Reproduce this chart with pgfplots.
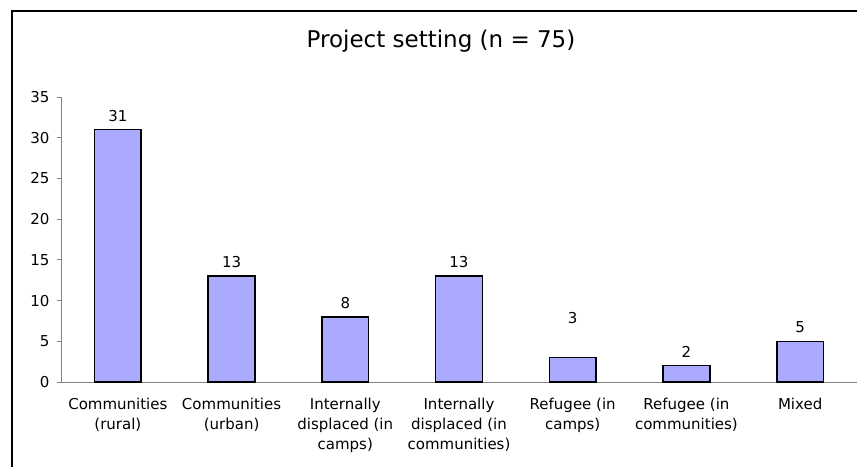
\documentclass[border=0pt]{standalone}
\usepackage{pgfplots}
\pgfplotsset{compat=1.18}
\usepackage{fontspec}
\setmainfont{DejaVu Sans}
\definecolor{barfill}{RGB}{170,170,255}
\definecolor{axgray}{RGB}{128,128,128}
\begin{document}
\begin{tikzpicture}
\useasboundingbox (0,0) rectangle (857pt,467pt);
\draw[line width=2pt] (11.5pt,0pt) -- (11.5pt,455.5pt) -- (857pt,455.5pt);
\node[anchor=base, font=\fontsize{23}{27}\selectfont] at (441pt,419pt) {Project setting (n = 75)};
\begin{axis}[
  at={(61pt,85pt)}, anchor=south west,
  scale only axis, width=796pt, height=285pt,
  xmin=-0.5, xmax=6.5, ymin=0, ymax=35,
  axis x line*=bottom, axis y line*=left,
  axis line style={axgray, line width=0.8pt},
  ytick={0,5,...,35},
  ytick style={axgray, line width=0.8pt},
  tick align=outside, major tick length=4pt,
  xtick=data,
  xtick style={draw=none},
  xticklabels={{Communities\\(rural)},{Communities\\(urban)},{Internally\\displaced (in\\camps)},{Internally\\displaced (in\\communities)},{Refugee (in\\camps)},{Refugee (in\\communities)},{Mixed}},
  xticklabel style={align=center, font=\fontsize{15}{20}\selectfont, yshift=-9pt},
  yticklabel style={font=\fontsize{15}{20}\selectfont, xshift=-4pt},
  /pgf/number format/assume math mode=true,
  ybar, bar width=46.7pt,
  nodes near coords,
  nodes near coords style={font=\fontsize{15}{20}\selectfont, yshift=4pt},
  coordinate style/.condition={x==4}{yshift=26pt},
]
\addplot[fill=barfill, draw=black, line width=1.5pt] coordinates {(0,31) (1,13) (2,8) (3,13) (4,3) (5,2) (6,5)};
\end{axis}
\end{tikzpicture}
\end{document}
